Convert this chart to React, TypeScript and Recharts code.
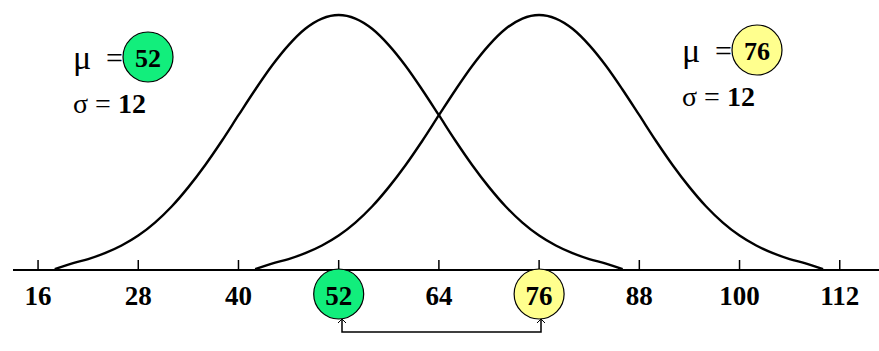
import { Line, LineChart, XAxis, YAxis } from "recharts";

// x positions sampled along each curve (step of 2)
const curveAX = [18, 20, 22, 24, 26, 28, 30, 32, 34, 36, 38, 40, 42, 44, 46, 48, 50, 52, 54, 56, 58, 60, 62, 64, 66, 68, 70, 72, 74, 76, 78, 80, 82, 84, 86];
const curveAY = [0.3, 2.5, 4.3, 6.6, 9.6, 13.5, 18.6, 24.9, 32.5, 41.1, 50.6, 60.7, 70.7, 80.1, 88.2, 94.6, 98.6, 100, 98.6, 94.6, 88.2, 80.1, 70.7, 60.7, 50.6, 41.1, 32.5, 24.9, 18.6, 13.5, 9.6, 6.6, 4.3, 2.5, 0.3];

const curveBX = [42, 44, 46, 48, 50, 52, 54, 56, 58, 60, 62, 64, 66, 68, 70, 72, 74, 76, 78, 80, 82, 84, 86, 88, 90, 92, 94, 96, 98, 100, 102, 104, 106, 108, 110];
const curveBY = [0.3, 2.5, 4.3, 6.6, 9.6, 13.5, 18.6, 24.9, 32.5, 41.1, 50.6, 60.7, 70.7, 80.1, 88.2, 94.6, 98.6, 100, 98.6, 94.6, 88.2, 80.1, 70.7, 60.7, 50.6, 41.1, 32.5, 24.9, 18.6, 13.5, 9.6, 6.6, 4.3, 2.5, 0.3];

const xTicks = [16, 28, 40, 52, 64, 76, 88, 100, 112];
const means = [52, 76];
const sigmas = [12, 12];
const meanColors = ["#12EE7C", "#FFFF8E"];

const curveA = curveAX.map((x, i) => ({ x, y: curveAY[i] }));
const curveB = curveBX.map((x, i) => ({ x, y: curveBY[i] }));

const serif = "'Liberation Serif', 'Times New Roman', serif";

function Tick(props: any) {
  const { x, y, payload } = props;
  const idx = means.indexOf(payload.value);
  return (
    <g>
      <line x1={x} x2={x} y1={y - 10} y2={y} stroke="#000" strokeWidth={1.5} />
      {idx >= 0 && (
        <circle cx={x} cy={y + 24} r={25} fill={meanColors[idx]} stroke="#000" strokeWidth={1.2} />
      )}
      <text
        x={x}
        y={y + 26}
        textAnchor="middle"
        dominantBaseline="central"
        fontFamily={serif}
        fontWeight="bold"
        fontSize={27}
        fill="#000"
      >
        {payload.value}
      </text>
    </g>
  );
}

function MeanLabel({ x, y, idx }: { x: number; y: number; idx: number }) {
  return (
    <g fontFamily={serif} fill="#000">
      <text x={x} y={y} dominantBaseline="central" fontSize={34}>
        μ
      </text>
      <text x={x + 50} y={y} textAnchor="end" dominantBaseline="central" fontSize={30}>
        =
      </text>
      <circle cx={x + 75} cy={y} r={25} fill={meanColors[idx]} stroke="#000" strokeWidth={1.2} />
      <text x={x + 75} y={y + 1} textAnchor="middle" dominantBaseline="central" fontSize={26} fontWeight="bold">
        {means[idx]}
      </text>
      <text x={x} y={y + 46} dominantBaseline="central" fontSize={28}>
        σ = <tspan fontWeight="bold">{sigmas[idx]}</tspan>
      </text>
    </g>
  );
}

export default function App() {
  return (
    <div style={{ position: "relative", width: 879, height: 351, background: "#fff" }}>
      <style>{"body{margin:0}"}</style>
      <LineChart width={879} height={351} margin={{ top: 15, right: 0, left: 13, bottom: 0 }}>
        <XAxis
          type="number"
          dataKey="x"
          domain={[13, 116.7]}
          ticks={xTicks}
          allowDataOverflow
          height={81}
          tickSize={0}
          tickMargin={0}
          tickLine={false}
          axisLine={{ stroke: "#000", strokeWidth: 2 }}
          tick={<Tick />}
          interval={0}
        />
        <YAxis type="number" domain={[0, 100]} hide />
        <Line data={curveA} dataKey="y" type="monotone" stroke="#000" strokeWidth={2.4} dot={false} isAnimationActive={false} />
        <Line data={curveB} dataKey="y" type="monotone" stroke="#000" strokeWidth={2.4} dot={false} isAnimationActive={false} />
      </LineChart>
      <svg width={879} height={351} style={{ position: "absolute", left: 0, top: 0, pointerEvents: "none" }}>
        <MeanLabel x={73} y={57} idx={0} />
        <MeanLabel x={682} y={50} idx={1} />
        <path d="M342 319 V332 H541 V319" fill="none" stroke="#000" strokeWidth={1.5} />
        <path d="M338 323 L342 319 L346 323 M537 323 L541 319 L545 323" fill="none" stroke="#000" strokeWidth={1} />
      </svg>
    </div>
  );
}
